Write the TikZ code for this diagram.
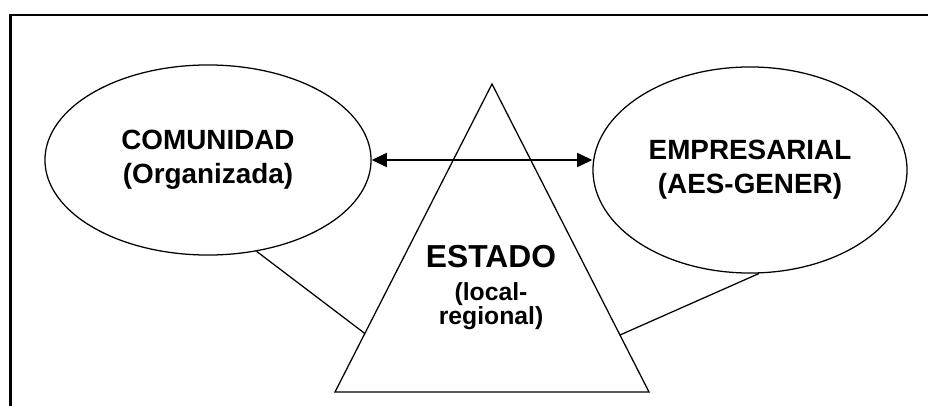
\documentclass[tikz,border=0pt]{standalone}
\usepackage{fontspec}
\setmainfont{Liberation Sans}
\usetikzlibrary{calc,shapes.geometric,arrows.meta}

\begin{document}
\begin{tikzpicture}[x=0.025cm,y=-0.025cm,
		oval/.style={draw, ellipse, line width=0.9pt, inner sep=0pt, align=center,
			font=\bfseries\fontsize{19.8}{24}\selectfont},
		link/.style={line width=0.9pt},
		tip/.style={line width=1.4pt, {Triangle[length=3.8mm,width=3.5mm]}-{Triangle[length=3.8mm,width=3.5mm]}}]
			%%%%% START %%%%%
			
			\useasboundingbox (0,0) rectangle (928,406);
			\draw[line width=1.6pt] (10.5,406) -- (10.5,15) -- (930,15);
			
			\node[oval, minimum width=8.15cm, minimum height=4.75cm] (com) at (208,160) {COMUNIDAD\\(Organizada)};
			\node[oval, minimum width=7.85cm, minimum height=5.15cm] (emp) at (750,170) {EMPRESARIAL\\(AES-GENER)};
			
			\coordinate (apex) at (492,84);
			\coordinate (bl) at (335,392);
			\coordinate (br) at (649,392);
			\draw[link] (apex) -- (bl) -- (br) -- cycle;
			
			\node[font=\bfseries\fontsize{22.6}{26}\selectfont] (est) at (491,257) {ESTADO};
			\node[align=center, font=\bfseries\fontsize{17.6}{15}\selectfont] (lr) at (491,306) {(local-\\regional)};
			
			\draw[tip] (com.east) -- (com.east -| emp.west);
			\draw[link] (com.-62) -- ($(bl)!0.19!(apex)$);
			\draw[link] (emp.-85) -- ($(br)!0.185!(apex)$);
			
			%%%%% END %%%%%
\end{tikzpicture}
\end{document}
